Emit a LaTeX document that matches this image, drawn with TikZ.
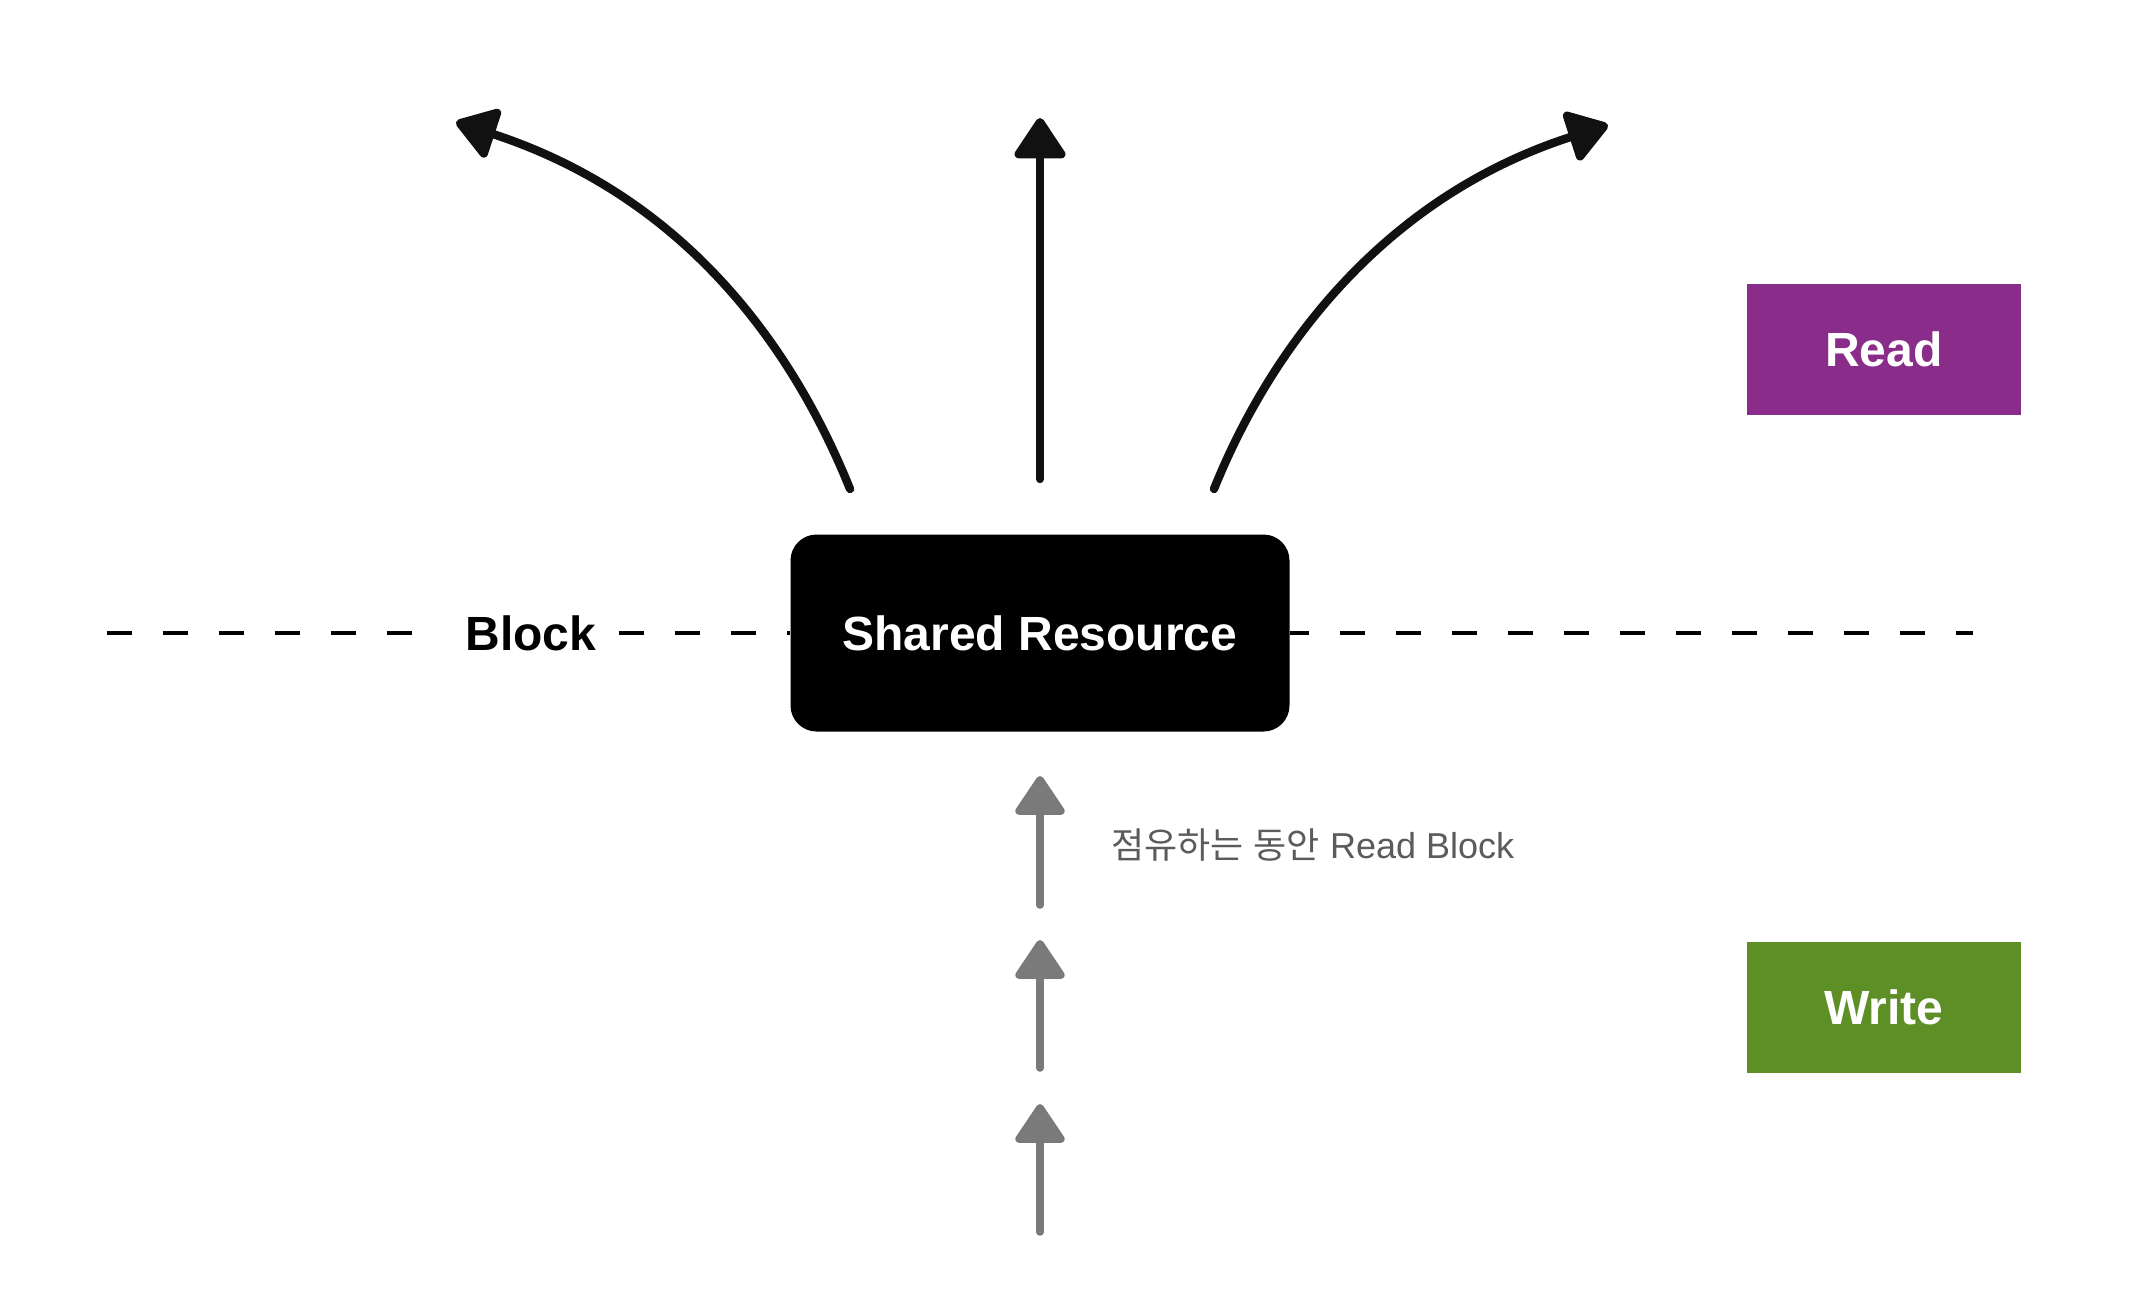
\documentclass[tikz,border=0pt]{standalone}
\usepackage{fontspec}
\setmainfont{Liberation Sans}
\newfontfamily\cjk{Noto Sans CJK KR}
\usetikzlibrary{arrows.meta}
\definecolor{readc}{HTML}{8A2D8A}
\definecolor{writec}{HTML}{5E8E26}
\definecolor{penc}{HTML}{111111}
\definecolor{pencilgray}{HTML}{7A7A7A}
\definecolor{labelgray}{HTML}{5B5B5B}
\tikzset{
  resbox/.style={fill=black, rounded corners=13pt, minimum width=249.5pt, minimum height=98.5pt, inner sep=0pt, text=white, font=\bfseries\fontsize{24}{28}\selectfont},
  legendbox/.style={minimum width=137pt, minimum height=65.5pt, inner sep=0pt, text=white, font=\bfseries\fontsize{24}{28}\selectfont},
  blocklabel/.style={inner sep=0pt, font=\bfseries\fontsize{24}{28}\selectfont},
  sep/.style={line width=1.6pt, dash pattern=on 12.5pt off 15.5pt},
  readarrow/.style={line width=4.2pt, line cap=round, draw=penc, -{Triangle[width=28pt,length=22pt,round]}},
  writearrow/.style={line width=3.8pt, line cap=round, draw=pencilgray, -{Triangle[width=27pt,length=21pt,round]}},
  note/.style={inner sep=0pt, anchor=west, text=labelgray, font=\fontsize{18}{21}\selectfont}
}
\begin{document}
\begin{tikzpicture}[x=0.5pt, y=-0.5pt]
\useasboundingbox (0,0) rectangle (2148,1306);
% nodes
\node[resbox] (res) at (1040,633) {Shared Resource};
\node[blocklabel] (block) at (531,633) {Block};
\node[legendbox, fill=readc] (read) at (1884,349.5) {Read};
\node[legendbox, fill=writec] (write) at (1884,1007.5) {Write};
\node[note] (note) at (1111,845) {{\cjk 점유하는}\ {\cjk 동안} Read Block};
% dashed separator
\coordinate (sepL) at (107,633);
\coordinate (sepR) at (1973,633);
\draw[sep] (sepL) -- ([xshift=-20pt]block.west);
\draw[sep] ([xshift=11pt]block.east) -- (res.west);
\draw[sep, dash phase=3pt] (res.east) -- (sepR);
% read arrows
\coordinate (l0) at (850,489);
\coordinate (l1) at (456,122);
\coordinate (m0) at (1040,479);
\coordinate (m1) at (1040,118);
\coordinate (r0) at (1214,489);
\coordinate (r1) at (1608,125);
\draw[readarrow] (l0) .. controls (790,340) and (680,195) .. (l1);
\draw[readarrow] (m0) -- (m1);
\draw[readarrow] (r0) .. controls (1274,340) and (1390,195) .. (r1);
% write arrows
\coordinate (w1a) at (1040,905);
\coordinate (w1b) at (1040,776);
\coordinate (w2a) at (1040,1068);
\coordinate (w2b) at (1040,940);
\coordinate (w3a) at (1040,1232);
\coordinate (w3b) at (1040,1104);
\draw[writearrow] (w1a) -- (w1b);
\draw[writearrow] (w2a) -- (w2b);
\draw[writearrow] (w3a) -- (w3b);
\end{tikzpicture}
\end{document}
